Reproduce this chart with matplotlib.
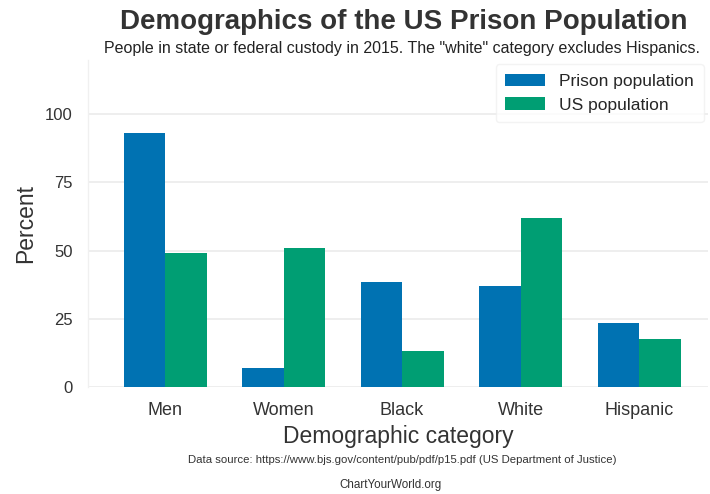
import numpy as np
import matplotlib
matplotlib.use("Agg")
import matplotlib.pyplot as plt

plt.style.use("seaborn-v0_8-whitegrid")
plt.rcParams["font.family"] = ["Liberation Sans", "DejaVu Sans"]

categories = ["Men", "Women", "Black", "White", "Hispanic"]
prison_pct = [93, 7, 38.6, 37, 23.5]
us_pct = [49, 51, 13, 62, 17.6]

fig = plt.figure(figsize=(7.1, 4.94), dpi=100)
ax = fig.add_axes([0.124, 0.217, 0.873, 0.662])

x = np.arange(len(categories))
w = 0.35
ax.bar(x - w / 2, prison_pct, w, color="#0072B2", label="Prison population")
ax.bar(x + w / 2, us_pct, w, color="#009E73", label="US population")

ax.set_xlim(-0.65, 4.58)
ax.set_ylim(0, 120)
ax.set_yticks([0, 25, 50, 75, 100])
ax.set_xticks(x)
ax.set_xticklabels(categories)
ax.tick_params(axis="x", labelsize=13, colors="#333333", pad=11)
ax.tick_params(axis="y", labelsize=12, colors="#333333", pad=11)
ax.grid(axis="x", visible=False)
ax.grid(axis="y", color="#ebebeb", linewidth=1.2)
for s in ["top", "right", "bottom"]:
    ax.spines[s].set_visible(False)
ax.spines["left"].set_visible(True)
ax.spines["left"].set_color("#f0f0f0")

ax.set_ylabel("Percent", fontsize=16.5, color="#333333", labelpad=6)
ax.set_xlabel("Demographic category", fontsize=16.5, color="#333333", labelpad=4)

leg = ax.legend(loc="upper right", frameon=True, fontsize=12.5, borderpad=0.55,
                handlelength=2.3, borderaxespad=0.25)
leg.get_frame().set_edgecolor("#f0f0f0")

fig.text(0.569, 0.956, "Demographics of the US Prison Population", ha="center",
         va="center", fontsize=20, fontweight="bold", color="#333333")
fig.text(0.566, 0.902, 'People in state or federal custody in 2015. The "white" category excludes Hispanics.',
         ha="center", va="center", fontsize=11.5, color="#222222")
fig.text(0.566, 0.068, "Data source: https://www.bjs.gov/content/pub/pdf/p15.pdf (US Department of Justice)",
         ha="center", va="center", fontsize=8.2, color="#333333")
fig.text(0.55, 0.018, "ChartYourWorld.org", ha="center", va="center", fontsize=8.4,
         color="#333333")

fig.savefig("out.png", dpi=100)
